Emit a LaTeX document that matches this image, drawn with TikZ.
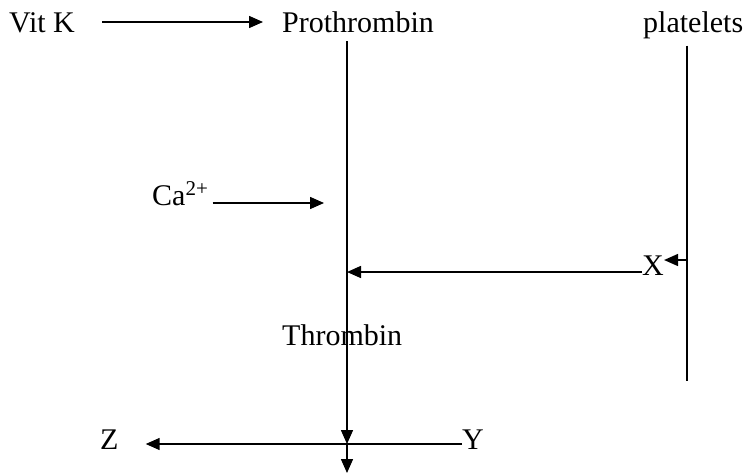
\documentclass[tikz,border=0pt]{standalone}
\usepackage{fontspec}
\setmainfont{Liberation Serif}
\usetikzlibrary{arrows.meta,calc}
\tikzset{
  lbl/.style={inner sep=0pt, anchor=base west, font=\fontsize{30}{36}\selectfont},
  ln/.style={line width=1.5pt},
  arr/.style={line width=1.5pt, -{Triangle[length=14pt,width=12pt]}}
}
\begin{document}
\begin{tikzpicture}[x=1pt,y=-1pt]
\useasboundingbox (0,0) rectangle (744,474);
\node[lbl] (vitk) at (9,32) {Vit K};
\node[lbl] (pro) at (282,32) {Prothrombin};
\node[lbl] (plat) at (643,32) {platelets};
\node[lbl] (ca) at (152,205) {Ca\textsuperscript{2+}};
\node[lbl] (X) at (642,275) {X};
\node[lbl] (thr) at (282,345) {Thrombin};
\node[lbl] (Z) at (100,449) {Z};
\node[lbl] (Y) at (462,449) {Y};
\coordinate (cross) at (347,444);
\coordinate (bot) at (347,473);
\coordinate (pbot) at (687,381);
\coordinate (xsrc) at (687,260);
\coordinate (caend) at (324,203);
% Vit K -> Prothrombin
\draw[arr] ($(vitk.base east)+(27,-10)$) coordinate (vk1) -- ($(vk1 -| pro.west)+(-19,0)$);
% Prothrombin line down to crossing
\draw[arr] ($(cross |- pro.south)+(0,9)$) -- (cross);
\draw[arr] (cross) -- (bot);
% Y -> Z
\draw[arr] (Y.west |- cross) -- ($(Z.east |- cross)+(27,0)$);
% platelets line
\draw[ln] ($(pbot |- plat.south)+(0,7)$) -- (pbot);
% platelets -> X
\draw[arr] (xsrc) -- (xsrc -| X.east);
% X -> Prothrombin line
\draw[arr] ($(X.base west)+(0,-3)$) coordinate (xl) -- (xl -| cross);
% Ca arrow
\draw[arr] ($(ca.base east)+(4,-2)$) coordinate (ca1) -- (ca1 -| caend);
\end{tikzpicture}
\end{document}
